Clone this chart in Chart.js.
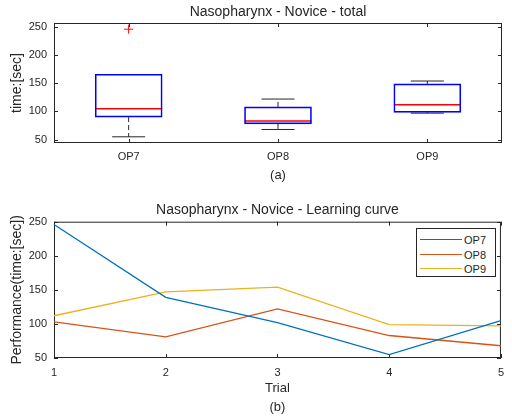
<!DOCTYPE html>
<html>
<head>
<meta charset="utf-8">
<script src="https://cdn.jsdelivr.net/npm/chart.js@4/dist/chart.umd.min.js"></script>
<style>
  body { margin: 0; background: #fff; font-family: 'Liberation Sans', Arial, sans-serif; }
  #wrap { position: relative; width: 512px; height: 417px; }
  canvas { position: absolute; left: 0; }
  #box { top: 0; }
  #curve { top: 195px; }
  #legend { position: absolute; left: 416px; top: 228px; width: 78px; height: 47px;
    border: 1px solid #262626; background: #fff; }
  #legend .row { position: absolute; left: 0; width: 78px; height: 14px; }
  #legend .swatch { position: absolute; left: 3px; top: 6px; width: 42px; height: 0; }
  #legend .label { position: absolute; left: 47px; top: 0; font-size: 11px; line-height: 14px; color: #262626; }
</style>
</head>
<body>
<div id="wrap">
  <canvas id="box" width="512" height="190"></canvas>
  <canvas id="curve" width="512" height="222"></canvas>
  <div id="legend"></div>
</div>
<script>
// box plot (a)
const categories = ['OP7', 'OP8', 'OP9'];
const whiskerLow = [55, 68, 97];
const boxQ1 = [90, 78, 98.5];
const boxMedian = [105, 83, 112];
const boxQ3 = [166, 108, 149];
const whiskerHigh = [null, 122, 154];
const outlierCategory = ['OP7'];
const outlierValue = [246];
const boxTicks = [50, 100, 150, 200, 250];

// learning curve (b)
const trials = ['1', '2', '3', '4', '5'];
const seriesNames = ['OP7', 'OP8', 'OP9'];
const seriesColors = ['#0072BD', '#D95319', '#EDB120'];
const op7 = [246, 139, 102, 55, 105];
const op8 = [103, 81, 122, 83, 68];
const op9 = [112, 147, 154, 99, 97];
const curveTicks = [50, 100, 150, 200, 250];

const textColor = '#262626';
const fontFamily = "'Liberation Sans', Arial, sans-serif";
Chart.defaults.font.family = fontFamily;
Chart.defaults.color = textColor;
Chart.defaults.animation = false;

// axis box with inward ticks, like the original figure
const framePlugin = {
  id: 'frame',
  beforeDatasetsDraw(chart) {
    const { ctx, chartArea: a } = chart;
    const x = chart.scales.x;
    const y = chart.scales.y;
    ctx.save();
    ctx.strokeStyle = textColor;
    ctx.lineWidth = 1;
    ctx.strokeRect(a.left + 0.5, a.top + 0.5, a.width - 1, a.height - 1);
    ctx.beginPath();
    y.ticks.forEach((t, i) => {
      const py = Math.round(y.getPixelForTick(i)) + 0.5;
      ctx.moveTo(a.left, py); ctx.lineTo(a.left + 4, py);
      ctx.moveTo(a.right, py); ctx.lineTo(a.right - 4, py);
    });
    x.ticks.forEach((t, i) => {
      const px = Math.round(x.getPixelForTick(i)) + 0.5;
      ctx.moveTo(px, a.top); ctx.lineTo(px, a.top + 4);
      ctx.moveTo(px, a.bottom); ctx.lineTo(px, a.bottom - 4);
    });
    ctx.stroke();
    ctx.restore();
  }
};

function whiskerData(from, to) {
  const pts = [];
  categories.forEach((c, i) => {
    if (to[i] === null) return;
    pts.push({ x: c, y: from[i] }, { x: c, y: to[i] }, { x: c, y: null });
  });
  return pts;
}

function capData(values) {
  return values.map((v, i) => ({ x: categories[i], y: v }));
}

new Chart(document.getElementById('box'), {
  type: 'bar',
  data: {
    labels: categories,
    datasets: [
      {
        type: 'bar',
        data: categories.map((c, i) => [boxQ1[i], boxQ3[i]]),
        backgroundColor: 'rgba(0,0,0,0)',
        borderColor: '#0000ff',
        borderWidth: 1,
        borderSkipped: false,
        barThickness: 67
      },
      {
        type: 'line',
        data: boxMedian,
        showLine: false,
        pointStyle: 'line',
        pointRadius: 33.5,
        pointBorderWidth: 1.5,
        pointBorderColor: '#ff0000'
      },
      {
        type: 'line',
        data: outlierCategory.map((c, i) => ({ x: c, y: outlierValue[i] })),
        showLine: false,
        pointStyle: 'cross',
        pointRadius: 4.5,
        pointBorderWidth: 1,
        pointBorderColor: '#ff0000'
      },
      {
        type: 'line',
        data: whiskerData(boxQ1, whiskerLow).concat(whiskerData(boxQ3, whiskerHigh)),
        borderColor: textColor,
        borderWidth: 1,
        borderDash: [5, 3],
        pointRadius: 0,
        spanGaps: false
      },
      {
        type: 'line',
        data: capData(whiskerLow).concat(capData(whiskerHigh)),
        showLine: false,
        pointStyle: 'line',
        pointRadius: 16.5,
        pointBorderWidth: 1,
        pointBorderColor: textColor
      }
    ]
  },
  options: {
    responsive: false,
    layout: { autoPadding: false, padding: { left: 0, right: 10, top: 0, bottom: 0 } },
    plugins: {
      legend: { display: false },
      tooltip: { enabled: false },
      title: {
        display: true,
        fullSize: false,
        text: 'Nasopharynx - Novice - total',
        color: textColor,
        font: { size: 14, weight: 'normal' },
        padding: { top: 3.6, bottom: 2.6 }
      }
    },
    scales: {
      x: {
        grid: { display: false, drawTicks: false },
        border: { display: false },
        ticks: { padding: 7, font: { size: 11 }, color: textColor },
        title: { display: true, text: '(a)', color: textColor, font: { size: 13 }, padding: { top: 0, bottom: 7.2 } },
        afterFit(scale) { scale.height = 47; }
      },
      y: {
        min: 44,
        max: 257,
        grid: { display: false, drawTicks: false },
        border: { display: false },
        ticks: { padding: 7, font: { size: 11 }, color: textColor },
        afterBuildTicks(scale) { scale.ticks = boxTicks.map((v) => ({ value: v })); },
        title: { display: true, text: 'time:[sec]', color: textColor, font: { size: 14 }, padding: { top: 8.3, bottom: 0 } },
        afterFit(scale) { scale.width = 54; }
      }
    }
  },
  plugins: [framePlugin]
});

const series = [op7, op8, op9];

new Chart(document.getElementById('curve'), {
  type: 'line',
  data: {
    labels: trials,
    datasets: series.map((values, i) => ({
      label: seriesNames[i],
      data: values,
      borderColor: seriesColors[i],
      borderWidth: 1.3,
      pointRadius: 0,
      tension: 0
    }))
  },
  options: {
    responsive: false,
    layout: { autoPadding: false, padding: { left: 0, right: 10, top: 0, bottom: 0 } },
    plugins: {
      legend: { display: false },
      tooltip: { enabled: false },
      title: {
        display: true,
        fullSize: false,
        text: 'Nasopharynx - Novice - Learning curve',
        color: textColor,
        font: { size: 14, weight: 'normal' },
        padding: { top: 6.6, bottom: 3.3 }
      }
    },
    scales: {
      x: {
        offset: false,
        grid: { display: false, drawTicks: false },
        border: { display: false },
        ticks: { padding: 8, font: { size: 11 }, color: textColor, maxRotation: 0 },
        title: { display: true, text: ['Trial', '(b)'], color: textColor, font: { size: 13, lineHeight: '19px' }, padding: { top: 0, bottom: 0.2 } },
        afterFit(scale) { scale.height = 59; }
      },
      y: {
        min: 50,
        max: 250,
        grid: { display: false, drawTicks: false },
        border: { display: false },
        ticks: { padding: 7, font: { size: 11 }, color: textColor },
        afterBuildTicks(scale) { scale.ticks = curveTicks.map((v) => ({ value: v })); },
        title: { display: true, text: 'Performance(time:[sec])', color: textColor, font: { size: 14 }, padding: { top: 8.6, bottom: 0 } },
        afterFit(scale) { scale.width = 54; }
      }
    }
  },
  plugins: [framePlugin]
});

// legend drawn as html inside the axes box
const legend = document.getElementById('legend');
seriesNames.forEach((name, i) => {
  const row = document.createElement('div');
  row.className = 'row';
  row.style.top = (4 + i * 14.6) + 'px';
  row.innerHTML = `<span class="swatch" style="border-top:${i === 1 ? 1 : 1.5}px solid ${seriesColors[i]}"></span><span class="label">${name}</span>`;
  legend.appendChild(row);
});
</script>
</body>
</html>
